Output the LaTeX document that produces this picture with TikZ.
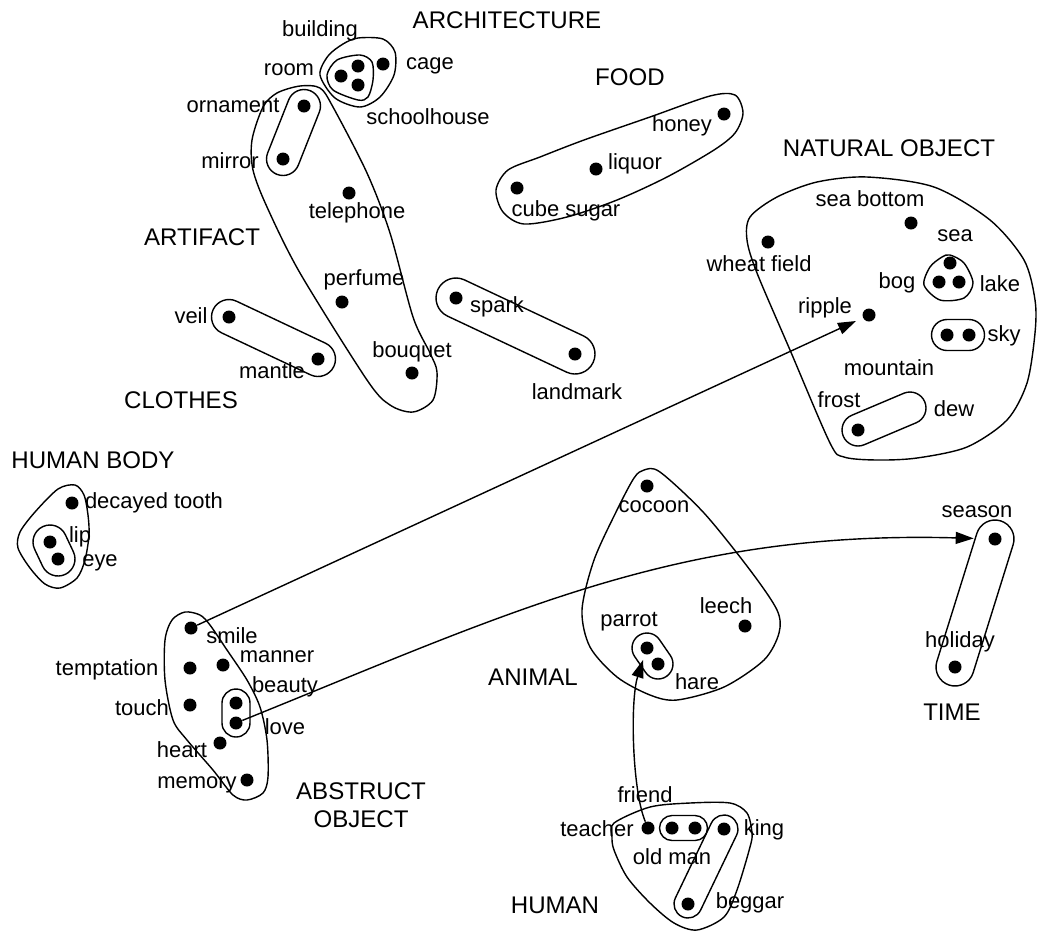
\documentclass[tikz,border=0pt]{standalone}
\usepackage{fontspec}
\setmainfont{Liberation Sans}
\usetikzlibrary{positioning,calc,arrows.meta}

% a loop round two dots
\newcommand\capsule[3]{%
  \coordinate (c1) at ($(#1)!-#3!(#2)$);
  \coordinate (c2) at ($(#2)!-#3!(#1)$);
  \draw[grp,rounded corners=#3] ($(c1)!#3!90:(c2)$) -- ($(c2)!#3!-90:(c1)$)
    -- ($(c2)!#3!90:(c1)$) -- ($(c1)!#3!-90:(c2)$) -- cycle;
}

\begin{document}
\begin{tikzpicture}[x=0.02cm,y=-0.02cm,
  dot/.style={circle,fill,inner sep=0pt,minimum size=0.26cm},
  item/.style={inner sep=0pt,font=\fontsize{12.5}{14}\selectfont},
  cat/.style={inner sep=0pt,font=\fontsize{13.7}{16}\selectfont},
  grp/.style={line width=0.8pt},
  arr/.style={line width=0.8pt,-{Triangle[length=0.36cm,width=0.24cm]}}
]
\useasboundingbox (0,0) rectangle (1037,931);

% the dots
\node[dot] (room) at (341,76) {};
\node[dot] (building) at (358,66) {};
\node[dot] (school) at (358,85) {};
\node[dot] (cage) at (383,64) {};
\node[dot] (ornament) at (304,106) {};
\node[dot] (mirror) at (283,159) {};
\node[dot] (telephone) at (349,193) {};
\node[dot] (perfume) at (342,302) {};
\node[dot] (bouquet) at (412,373) {};
\node[dot] (veil) at (229,317) {};
\node[dot] (mantle) at (318,359) {};
\node[dot] (spark) at (456,298) {};
\node[dot] (landmark) at (575,354) {};
\node[dot] (cube) at (517,188) {};
\node[dot] (liquor) at (596,169) {};
\node[dot] (honey) at (724,114) {};
\node[dot] (seabottom) at (911,223) {};
\node[dot] (wheat) at (768,242) {};
\node[dot] (sea) at (950,263) {};
\node[dot] (bog) at (939,282) {};
\node[dot] (lake) at (959,282) {};
\node[dot] (ripple) at (869,315) {};
\node[dot] (sky1) at (947,335) {};
\node[dot] (sky2) at (969,335) {};
\node[dot] (frost) at (858,430) {};
\coordinate (dew) at (910,408);
\node[dot] (tooth) at (72,503) {};
\node[dot] (lip) at (50,542) {};
\node[dot] (eye) at (58,559) {};
\node[dot] (smile) at (191,628) {};
\node[dot] (temptation) at (190,668) {};
\node[dot] (manner) at (223,665) {};
\node[dot] (touch) at (190,705) {};
\node[dot] (beauty) at (236,703) {};
\node[dot] (love) at (236,723) {};
\node[dot] (heart) at (220,743) {};
\node[dot] (memory) at (247,780) {};
\node[dot] (cocoon) at (647,486) {};
\node[dot] (leech) at (745,626) {};
\node[dot] (parrot) at (647,648) {};
\node[dot] (hare) at (658,664) {};
\node[dot] (season) at (995,539) {};
\node[dot] (holiday) at (955,667) {};
\node[dot] (teacher) at (648,828) {};
\node[dot] (old1) at (672,828) {};
\node[dot] (old2) at (695,828) {};
\node[dot] (king) at (724,829) {};
\node[dot] (beggar) at (688,904) {};

% the loops
\draw[grp] plot[smooth cycle] coordinates {(320,75) (328,56) (343,44) (358,38)
  (383,39) (395,52) (394,75) (380,97) (360,107) (335,98)};
\draw[grp] plot[smooth cycle] coordinates {(327,75) (337,60) (360,55) (372,62)
  (373,80) (368,97) (358,100) (333,90)};
\draw[grp] plot[smooth cycle] coordinates {(277,93) (300,86) (320,88) (333,107)
  (367,173) (390,233) (413,317) (430,353) (437,372) (433,400) (413,412) (390,405)
  (367,380) (300,273) (267,207) (253,170) (252,140) (263,107)};
\capsule{ornament}{mirror}{0.33cm}
\capsule{veil}{mantle}{0.35cm}
\capsule{spark}{landmark}{0.4cm}
\draw[grp] plot[smooth cycle] coordinates {(496,190) (508,170) (540,157) (584,140)
  (650,117) (710,96) (735,95) (743,113) (735,133) (714,150) (667,177) (617,200)
  (567,217) (524,224) (503,212)};
\draw[grp] plot[smooth cycle] coordinates {(750,217) (777,197) (817,182) (867,177)
  (934,187) (990,220) (1024,260) (1035,300) (1035,333) (1027,383) (1007,420)
  (967,447) (917,458) (877,460) (844,457) (830,443) (790,350) (757,273) (747,240)};
\draw[grp] plot[smooth cycle] coordinates {(950,255) (964,263) (973,283) (964,298)
  (940,300) (924,285) (930,267) (942,257)};
\capsule{sky1}{sky2}{0.31cm}
\capsule{frost}{dew}{0.32cm}
\draw[grp] plot[smooth cycle] coordinates {(58,489) (75,485) (84,495) (88,515)
  (89,535) (85,560) (77,578) (60,588) (45,584) (30,568) (18,548) (20,532) (35,512)};
\capsule{lip}{eye}{0.34cm}
\draw[grp] plot[smooth cycle] coordinates {(185,612) (200,615) (210,625) (227,650)
  (247,680) (260,707) (267,740) (268,777) (263,793) (247,800) (233,795) (213,770)
  (187,740) (173,720) (165,680) (165,640) (172,620)};
\capsule{beauty}{love}{0.28cm}
\draw[grp] plot[smooth cycle] coordinates {(644,470) (660,472) (704,513) (750,570)
  (777,610) (779,633) (764,660) (724,687) (677,700) (650,695) (617,677) (590,647)
  (582,610) (594,560) (617,510) (634,478)};
\capsule{parrot}{hare}{0.3cm}
\capsule{season}{holiday}{0.38cm}
\draw[grp] plot[smooth cycle] coordinates {(614,823) (650,807) (690,803) (730,803)
  (747,813) (752,833) (750,847) (737,890) (724,917) (697,930) (674,923) (650,903)
  (627,877) (614,850) (612,837)};
\capsule{old1}{old2}{0.25cm}
\capsule{king}{beggar}{0.28cm}

% the classes
\node[cat] (c-arch) at (507,20) {ARCHITECTURE};
\node[cat] (c-food) at (630,77) {FOOD};
\node[cat] (c-nat) at (889,148) {NATURAL OBJECT};
\node[cat] (c-art) at (202,237) {ARTIFACT};
\node[cat] (c-clo) at (181,400) {CLOTHES};
\node[cat] (c-body) at (93,460) {HUMAN BODY};
\node[cat] (c-ani) at (533,677) {ANIMAL};
\node[cat] (c-time) at (952,712) {TIME};
\node[cat,align=center] (c-abs) at (361,805) {ABSTRUCT\\OBJECT};
\node[cat] (c-hum) at (555,905) {HUMAN};

% the words
\node[item] (l-building) at (320,31) {building};
\node[item] (l-room) at (289,70) {room};
\node[item] (l-cage) at (430,66) {cage};
\node[item] (l-school) at (428,117) {schoolhouse};
\node[item] (l-ornament) at (233,105) {ornament};
\node[item] (l-mirror) at (230,161) {mirror};
\node[item] (l-telephone) at (357,213) {telephone};
\node[item] (l-perfume) at (364,280) {perfume};
\node[item] (l-bouquet) at (412,352) {bouquet};
\node[item] (l-veil) at (191,316) {veil};
\node[item] (l-mantle) at (272,371) {mantle};
\node[item] (l-spark) at (497,307) {spark};
\node[item] (l-landmark) at (577,392) {landmark};
\node[item] (l-honey) at (682,126) {honey};
\node[item] (l-liquor) at (635,164) {liquor};
\node[item] (l-cube) at (566,211) {cube sugar};
\node[item] (l-seabottom) at (870,199) {sea bottom};
\node[item] (l-wheat) at (759,264) {wheat field};
\node[item] (l-sea) at (955,236) {sea};
\node[item] (l-bog) at (897,283) {bog};
\node[item] (l-lake) at (1000,284) {lake};
\node[item] (l-ripple) at (825,308) {ripple};
\node[item] (l-sky) at (1004,336) {sky};
\node[item] (l-mountain) at (889,368) {mountain};
\node[item] (l-frost) at (839,400) {frost};
\node[item] (l-dew) at (954,409) {dew};
\node[item] (l-tooth) at (154,503) {decayed tooth};
\node[item] (l-lip) at (80,537) {lip};
\node[item] (l-eye) at (100,563) {eye};
\node[item] (l-smile) at (232,636) {smile};
\node[item] (l-temptation) at (107,670) {temptation};
\node[item] (l-manner) at (277,657) {manner};
\node[item] (l-touch) at (142,708) {touch};
\node[item] (l-beauty) at (285,687) {beauty};
\node[item] (l-love) at (285,727) {love};
\node[item] (l-heart) at (182,750) {heart};
\node[item] (l-memory) at (197,785) {memory};
\node[item] (l-cocoon) at (654,507) {cocoon};
\node[item] (l-leech) at (726,606) {leech};
\node[item] (l-parrot) at (629,622) {parrot};
\node[item] (l-hare) at (697,682) {hare};
\node[item] (l-season) at (977,512) {season};
\node[item] (l-holiday) at (960,642) {holiday};
\node[item] (l-friend) at (645,795) {friend};
\node[item] (l-teacher) at (597,829) {teacher};
\node[item] (l-oldman) at (672,857) {old man};
\node[item] (l-king) at (764,830) {king};
\node[item] (l-beggar) at (750,903) {beggar};

% the arrows
\draw[arr,shorten >=0.15cm] (smile) -- (ripple);
\draw[arr,shorten >=0.29cm] (love) .. controls (511,612) and (677,530) .. (season);
\draw[arr,shorten >=0.11cm] (teacher) .. controls (632,790) and (630,700) .. (parrot);
\end{tikzpicture}
\end{document}
